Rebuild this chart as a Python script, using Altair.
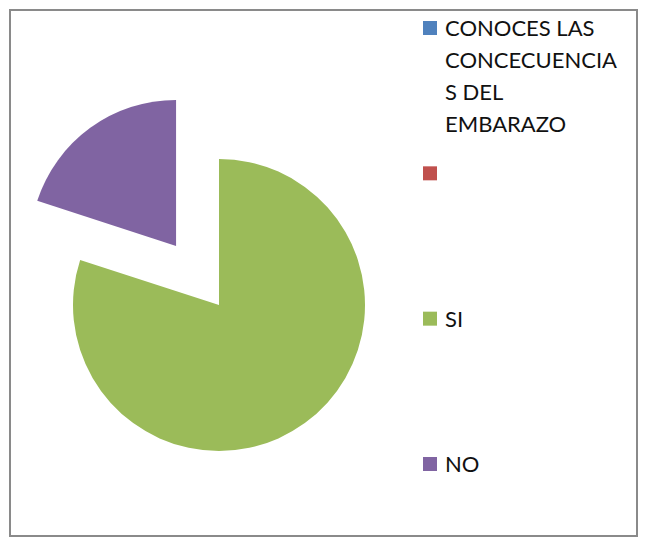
import altair as alt
import pandas as pd

# ---- data ----
keys = ["CONOCES", "BLANK", "SI", "NO"]
labels = ["CONOCES LAS\nCONCECUENCIA\nS DEL\nEMBARAZO", "", "SI", "NO"]
values = [0, 0, 80, 20]
colors = ["#4F81BD", "#C0504D", "#9BBB59", "#8064A2"]

df = pd.DataFrame({"key": keys, "label": labels, "value": values, "order": list(range(len(keys)))})

color_enc = alt.Color("key:N", scale=alt.Scale(domain=keys, range=colors), legend=None)

pie = (
    alt.Chart(df)
    .transform_joinaggregate(total="sum(value)")
    .transform_window(cum="sum(value)", sort=[alt.SortField("order")], frame=[None, 0])
    .transform_calculate(
        mid="2*PI*(datum.cum - datum.value/2)/datum.total",
        ex="datum.key == 'NO' ? 73 : 0",
    )
    .transform_calculate(
        cx="209 + datum.ex*sin(datum.mid)",
        cy="295 - datum.ex*cos(datum.mid)",
    )
    .mark_arc(outerRadius=146, stroke=None)
    .encode(
        theta=alt.Theta("value:Q", stack=True),
        order=alt.Order("order:Q"),
        color=color_enc,
        x=alt.X("cx:Q", scale=None),
        y=alt.Y("cy:Q", scale=None),
    )
)

ypos = alt.Y("key:N", scale=alt.Scale(type="point", domain=keys, range=[18, 454], padding=0), axis=None)

squares = alt.Chart(df).mark_square(size=196, opacity=1, filled=True).encode(
    x=alt.value(420), y=ypos, color=color_enc
)

texts = alt.Chart(df).mark_text(
    align="left", baseline="alphabetic", lineBreak="\n", fontSize=22, font="Lato",
    lineHeight=32, dy=8, color="#111111"
).encode(x=alt.value(435), y=ypos, text="label:N")

legend = (squares + texts)

chart = (
    alt.layer(pie, legend)
    .resolve_scale(x="independent", y="independent", color="shared")
    .properties(width=627, height=526, padding=2, autosize=alt.AutoSizeParams(type="none"))
    .configure_view(stroke="#8a8a8a", strokeWidth=2)
)

chart.save("out.html", embed_options={"renderer": "svg", "actions": False})
